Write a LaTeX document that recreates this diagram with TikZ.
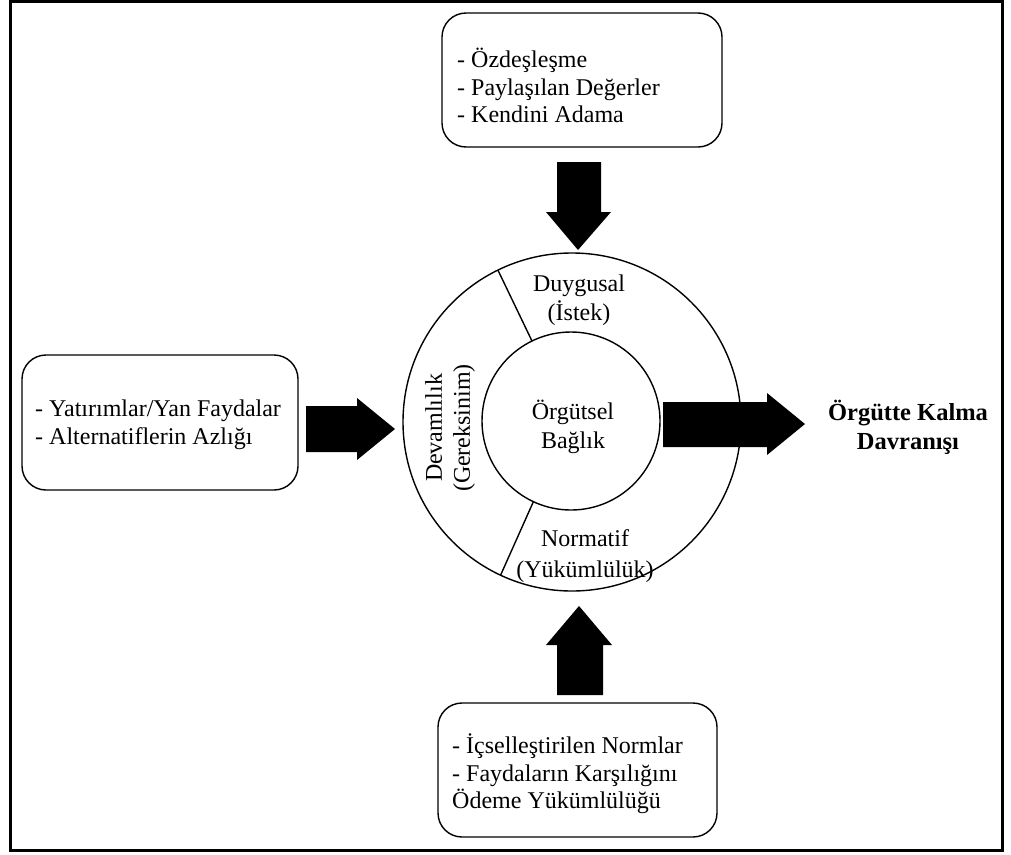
\documentclass[tikz,border=0pt]{standalone}
\usepackage{fontspec}
\setmainfont{Liberation Serif}
\begin{document}
\begin{tikzpicture}[x=1pt,y=-1pt,
  framebox/.style={draw, line width=1.4pt, rounded corners=24pt, inner sep=0pt},
  listtext/.style={font=\fontsize{24}{27.5}\selectfont, align=left, inner sep=0pt, anchor=west},
  ringtext/.style={font=\fontsize{24}{29}\selectfont, align=center, inner sep=0pt},
  ring/.style={draw, circle, line width=1.4pt, inner sep=0pt, outer sep=0pt},
  blockarrow/.style={fill=black}
]
\useasboundingbox (0,0) rectangle (1011,854);
\draw[line width=3pt] (10.5,1.5) rectangle (1002,850.5);

% boxes
\node[framebox, minimum width=280pt, minimum height=134pt] (topbox) at (582,80) {};
\node[listtext] (toptext) at (457,85.5) {- Özdeşleşme\\- Paylaşılan Değerler\\- Kendini Adama};

\node[framebox, minimum width=276pt, minimum height=135pt] (leftbox) at (160,422.5) {};
\node[listtext] (lefttext) at (35,425) {- Yatırımlar/Yan Faydalar\\- Alternatiflerin Azlığı};

\node[framebox, minimum width=279pt, minimum height=134pt] (botbox) at (577.5,770) {};
\node[listtext] (bottext) at (452,774) {- İçselleştirilen Normlar\\- Faydaların Karşılığını\\Ödeme Yükümlülüğü};

% circles
\node[ring, minimum size=338pt] (outer) at (572,422) {};
\node[ring, minimum size=178pt] (inner) at (571,421) {};
\draw[line width=1.4pt] (inner.116) -- (outer.116);
\draw[line width=1.4pt] (inner.-115) -- (outer.-115);

\node[ringtext] (core) at (573,427) {Örgütsel\\Bağlık};
\node[ringtext] (duy) at (579,300) {Duygusal\\(İstek)};
\node[ringtext, font=\fontsize{24}{31}\selectfont] (norm) at (585,556) {Normatif\\(Yükümlülük)};
\node[ringtext, font=\fontsize{24}{28}\selectfont, rotate=90] (dev) at (450,428) {Devamlılık\\(Gereksinim)};

\node[font=\fontsize{24.5}{29}\selectfont\bfseries, align=center, inner sep=0pt] (outcome) at (908,427) {Örgütte Kalma\\Davranışı};

% block arrows
\fill[blockarrow] (557,162) -- (601,162) -- (601,212) -- (611,212) -- (578,250) -- (546,212) -- (557,212) -- cycle;
\fill[blockarrow] (306,406) -- (357,406) -- (357,398) -- (395,429) -- (357,460) -- (357,452) -- (306,452) -- cycle;
\fill[blockarrow] (663,402) -- (767,402) -- (767,393) -- (805,424) -- (767,455) -- (767,447) -- (663,447) -- cycle;
\fill[blockarrow] (557,695) -- (603,695) -- (603,645) -- (612,645) -- (579,606) -- (546,645) -- (557,645) -- cycle;
\end{tikzpicture}
\end{document}
